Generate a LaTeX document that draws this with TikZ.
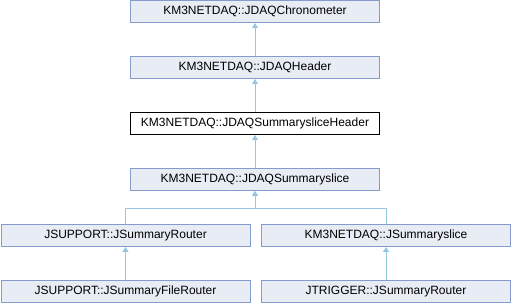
\documentclass[tikz,border=0pt]{standalone}
\usepackage{fontspec}
\setmainfont{Liberation Sans}
\usetikzlibrary{arrows.meta}
\definecolor{boxfill}{RGB}{232,236,245}
\definecolor{boxline}{RGB}{132,155,204}
\definecolor{edgecol}{RGB}{150,198,228}
\begin{document}
\begin{tikzpicture}[x=1pt,y=1pt,
  cls/.style={draw=boxline,fill=boxfill,line width=1pt,minimum width=249pt,minimum height=22pt,inner sep=0pt,font=\fontsize{12}{14}\selectfont},
  cur/.style={cls,draw=black,fill=white},
  inh/.style={draw=edgecol,line width=1pt,{Triangle[width=6pt,length=5pt]}-}]
\useasboundingbox (0,0) rectangle (512,-304);
\node[cls] (chrono) at (255,-11.5) {KM3NETDAQ::JDAQChronometer};
\node[cls] (header) at (255,-67.5) {KM3NETDAQ::JDAQHeader};
\node[cur] (sshead) at (255,-123.5) {KM3NETDAQ::JDAQSummarysliceHeader};
\node[cls] (sslice) at (255,-179.5) {KM3NETDAQ::JDAQSummaryslice};
\node[cls] (srouter) at (125.5,-235.5) {JSUPPORT::JSummaryRouter};
\node[cls] (jslice) at (386,-235.5) {KM3NETDAQ::JSummaryslice};
\node[cls] (sfrouter) at (125.5,-291.5) {JSUPPORT::JSummaryFileRouter};
\node[cls] (trouter) at (386,-291.5) {JTRIGGER::JSummaryRouter};
\coordinate (split) at (255,-208.5);
\draw[inh] (chrono.south) -- (header.north);
\draw[inh] (header.south) -- (sshead.north);
\draw[inh] (sshead.south) -- (sslice.north);
\draw[inh] (sslice.south) -- (split) -| (srouter.north);
\draw[inh] (sslice.south) -- (split) -| (jslice.north);
\draw[inh] (srouter.south) -- (sfrouter.north);
\draw[inh] (jslice.south) -- (trouter.north);
\end{tikzpicture}
\end{document}
